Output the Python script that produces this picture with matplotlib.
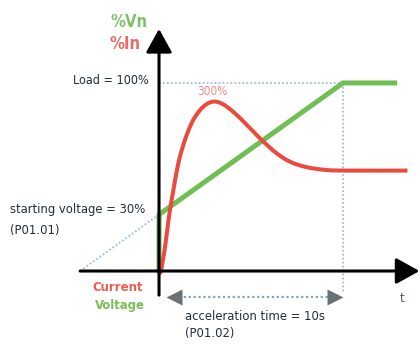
import matplotlib
matplotlib.use("Agg")
import matplotlib.pyplot as plt
from matplotlib import font_manager as fm
from matplotlib.path import Path
from matplotlib.patches import PathPatch
import numpy as np

# ---- data ----
accel_time = 10.0          # s (P01.02)
start_voltage = 30.0       # % (P01.01)
load_level = 100.0         # %
volt_end_t = 12.8

current_t = [0.0, 0.1, 0.33, 0.54, 0.78, 1.05, 1.32, 1.59, 1.86, 2.23, 2.6,
             2.95, 3.3, 3.68, 4.22, 4.77, 5.31, 5.67, 6.39, 7.12, 8.03, 9.11,
             10.2, 13.5]
current_v = [0.0, 0.0, 13.0, 28.9, 43.0, 57.3, 67.0, 74.5, 80.3, 85.6, 88.8,
             90.1, 89.5, 87.4, 83.0, 77.7, 72.3, 68.8, 62.6, 58.1, 55.2, 53.7,
             53.4, 53.4]

voltage_t = [0.0, 0.0, accel_time, volt_end_t]
voltage_v = [0.0, start_voltage, load_level, load_level]

# ---- font choice: prefer a narrow sans (Arial Narrow look) ----
names = {f.name for f in fm.fontManager.ttflist}
reg_fp = None
bold_fp = None
if "Liberation Sans Narrow" in names:
    reg_fp = fm.FontProperties(family="Liberation Sans Narrow")
    bold_fp = fm.FontProperties(family="Liberation Sans Narrow", weight="bold")
else:
    cond = [f for f in fm.fontManager.ttflist
            if ("Condensed" in f.fname or "Narrow" in f.fname)]
    def ok(f):
        return ("Oblique" not in f.fname and "Italic" not in f.fname
                and "Sans" in f.fname and "Mono" not in f.fname)
    regs = [f for f in cond if ok(f) and "Bold" not in f.fname]
    bolds = [f for f in cond if ok(f) and "Bold" in f.fname]
    if regs:
        reg_fp = fm.FontProperties(fname=regs[0].fname)
    if bolds:
        bold_fp = fm.FontProperties(fname=bolds[0].fname)
if reg_fp is None:
    reg_fp = fm.FontProperties(family="Liberation Sans")
if bold_fp is None:
    bold_fp = fm.FontProperties(family="Liberation Sans", weight="bold")

# ---- styling ----
GREEN = "#6fbf55"
RED = "#ea4b3f"
DOT = "#9cbfdc"
TXT = "#232c36"

fig = plt.figure(figsize=(4.2, 3.47), dpi=100)
ax = fig.add_axes([0, 0, 1, 1])
ax.set_xlim(-8.64, 14.18)
ax.set_ylim(-40.4, 144.1)
ax.axis("off")

# dotted guide lines
slope = (load_level - start_voltage) / accel_time
x_ext = -start_voltage / slope
dot = (0, (1, 1.2))
ax.plot([x_ext, 0], [0, start_voltage], ls=dot, color=DOT, lw=1.3, zorder=1)
ax.plot([0, accel_time], [load_level, load_level], ls=dot, color=DOT, lw=1.3, zorder=1)
ax.plot([accel_time, accel_time], [load_level, -11.2], ls=dot, color=DOT, lw=1.3, zorder=1)

# voltage curve
ax.plot(voltage_t, voltage_v, color=GREEN, lw=3.6, solid_joinstyle="miter", zorder=3)

# current curve: smooth path (Catmull-Rom -> cubic Bezier) through the read points
P = np.column_stack([current_t, current_v])
verts = [P[0]]
codes = [Path.MOVETO]
n = len(P)
for i in range(n - 1):
    p0 = P[max(i - 1, 0)]
    p1 = P[i]
    p2 = P[i + 1]
    p3 = P[min(i + 2, n - 1)]
    c1 = p1 + (p2 - p0) / 6.0
    c2 = p2 - (p3 - p1) / 6.0
    verts += [c1, c2, p2]
    codes += [Path.CURVE4] * 3
ax.add_patch(PathPatch(Path(verts, codes), fill=False, edgecolor=RED, lw=2.9,
                       capstyle="butt", zorder=4))

# axes with arrows
arrow = dict(arrowstyle="-|>,head_length=0.72,head_width=0.4",
             mutation_scale=20, lw=2.2, color="black", shrinkA=0, shrinkB=0)
ax.annotate("", xy=(14.15, 0), xytext=(x_ext, 0), arrowprops=arrow, zorder=5)
ax.annotate("", xy=(0, 128.7), xytext=(0, -12.8), arrowprops=arrow, zorder=5)

# acceleration time double arrow
acc_y = -13.8
ax.plot([0.8, accel_time - 0.5], [acc_y, acc_y], ls=dot, color="#7fa6c6", lw=1.6, zorder=2)
ax.plot([0.79], [acc_y], marker="<", ms=12, color="#687078", mec="none", zorder=3)
ax.plot([accel_time - 0.46], [acc_y], marker=">", ms=12, color="#687078", mec="none", zorder=3)

# texts (x in data, target pixel width used to size font)
renderer = fig.canvas.get_renderer()

def fit_size(s, width_px, bold=False):
    fp = (bold_fp if bold else reg_fp).copy()
    fp.set_size(10)
    t = ax.text(0, 0, s, fontproperties=fp)
    w = t.get_window_extent(renderer).width
    t.remove()
    return 10 * width_px / w

def label(x, y, s, size, color, bold=False, ha="left"):
    fp = (bold_fp if bold else reg_fp).copy()
    fp.set_size(size)
    ax.text(x, y, s, color=color, fontproperties=fp, ha=ha, va="center")

s_vn = fit_size("%Vn", 37, True)
label(-0.65, 132.6, "%Vn", s_vn, "#7cc46a", bold=True, ha="right")
label(-1.03, 120.6, "%In", s_vn, "#ea6a62", bold=True, ha="right")
label(-0.55, 101.5, "Load = 100%", fit_size("Load = 100%", 76), TXT, ha="right")
label(2.06, 95.2, "300%", fit_size("300%", 30), "#ef8a84")
s_sv = fit_size("starting voltage = 30%", 135)
label(-8.1, 32.5, "starting voltage = 30%", s_sv, TXT)
label(-8.1, 21.8, "(P01.01)", s_sv, TXT)
s_cv = fit_size("Current", 50, True)
label(-0.87, -8.5, "Current", s_cv, "#ee5a4e", bold=True, ha="right")
label(-0.76, -18.1, "Voltage", s_cv, "#76bf55", bold=True, ha="right")
s_at = fit_size("acceleration time = 10s", 140)
label(1.42, -24.4, "acceleration time = 10s", s_at, TXT)
label(1.42, -33.2, "(P01.02)", s_at, TXT)
label(13.2, -14.4, "t", s_at, "#4a5560", ha="center")

fig.savefig("out.png", dpi=100)
